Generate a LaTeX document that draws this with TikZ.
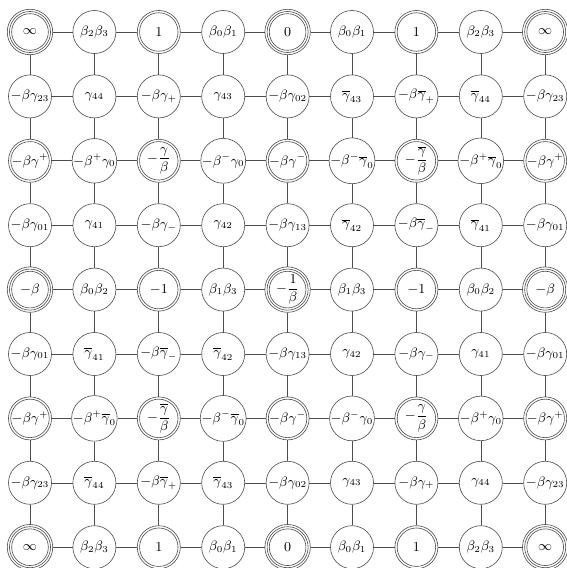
\documentclass[tikz,border=0pt]{standalone}
\usepackage{amsmath}
\tikzset{
  cellbase/.style={circle, draw=black!70, line width=0.4pt, inner sep=0pt, font=\small},
  cell1/.style={cellbase, minimum size=28.4pt},
  cell2/.style={cellbase, minimum size=28.4pt,
    path picture={\draw[ring] (path picture bounding box.center) circle[radius=12.7pt];}},
  cell3/.style={cellbase, minimum size=30pt,
    path picture={\draw[ring] (path picture bounding box.center) circle[radius=13.55pt];
                  \draw[ring] (path picture bounding box.center) circle[radius=12.1pt];}},
  ring/.style={draw=black!70, line width=0.4pt},
  link/.style={draw=black!70, line width=0.4pt},
}
\newcommand{\gb}{\overline{\gamma}}
\newcommand{\placecell}[3]{%
  \pgfmathtruncatemacro\celltype{(mod(#1,2)==1 && mod(#2,2)==1) ? ((mod(#1,4)==1 && mod(#2,4)==1) ? 3 : 2) : 1}%
  \node[cell\celltype] (n-#1-#2) at ({30+64.4*(#2-1)},{32+64.4*(#1-1)}) {#3};%
}
\begin{document}
\begin{tikzpicture}[x=0.66pt,y=-0.66pt]
\useasboundingbox (0,0) rectangle (566,568);
\foreach \c/\l in {1/{$\infty$},2/{$\beta_2\beta_3$},3/{$1$},4/{$\beta_0\beta_1$},5/{$0$},6/{$\beta_0\beta_1$},7/{$1$},8/{$\beta_2\beta_3$},9/{$\infty$}}{\placecell{1}{\c}{\l}}
\foreach \c/\l in {1/{$-\beta\gamma_{23}$},2/{$\gamma_{44}$},3/{$-\beta\gamma_+$},4/{$\gamma_{43}$},5/{$-\beta\gamma_{02}$},6/{$\gb_{43}$},7/{$-\beta\gb_+$},8/{$\gb_{44}$},9/{$-\beta\gamma_{23}$}}{\placecell{2}{\c}{\l}}
\foreach \c/\l in {1/{$-\beta\gamma^+$},2/{$-\beta^+\gamma_0$},3/{$-\dfrac{\gamma}{\beta}$},4/{$-\beta^-\gamma_0$},5/{$-\beta\gamma^-$},6/{$-\beta^-\gb_0$},7/{$-\dfrac{\gb}{\beta}$},8/{$-\beta^+\gb_0$},9/{$-\beta\gamma^+$}}{\placecell{3}{\c}{\l}}
\foreach \c/\l in {1/{$-\beta\gamma_{01}$},2/{$\gamma_{41}$},3/{$-\beta\gamma_-$},4/{$\gamma_{42}$},5/{$-\beta\gamma_{13}$},6/{$\gb_{42}$},7/{$-\beta\gb_-$},8/{$\gb_{41}$},9/{$-\beta\gamma_{01}$}}{\placecell{4}{\c}{\l}}
\foreach \c/\l in {1/{$-\beta$},2/{$\beta_0\beta_2$},3/{$-1$},4/{$\beta_1\beta_3$},5/{$-\dfrac{1}{\beta}$},6/{$\beta_1\beta_3$},7/{$-1$},8/{$\beta_0\beta_2$},9/{$-\beta$}}{\placecell{5}{\c}{\l}}
\foreach \c/\l in {1/{$-\beta\gamma_{01}$},2/{$\gb_{41}$},3/{$-\beta\gb_-$},4/{$\gb_{42}$},5/{$-\beta\gamma_{13}$},6/{$\gamma_{42}$},7/{$-\beta\gamma_-$},8/{$\gamma_{41}$},9/{$-\beta\gamma_{01}$}}{\placecell{6}{\c}{\l}}
\foreach \c/\l in {1/{$-\beta\gamma^+$},2/{$-\beta^+\gb_0$},3/{$-\dfrac{\gb}{\beta}$},4/{$-\beta^-\gb_0$},5/{$-\beta\gamma^-$},6/{$-\beta^-\gamma_0$},7/{$-\dfrac{\gamma}{\beta}$},8/{$-\beta^+\gamma_0$},9/{$-\beta\gamma^+$}}{\placecell{7}{\c}{\l}}
\foreach \c/\l in {1/{$-\beta\gamma_{23}$},2/{$\gb_{44}$},3/{$-\beta\gb_+$},4/{$\gb_{43}$},5/{$-\beta\gamma_{02}$},6/{$\gamma_{43}$},7/{$-\beta\gamma_+$},8/{$\gamma_{44}$},9/{$-\beta\gamma_{23}$}}{\placecell{8}{\c}{\l}}
\foreach \c/\l in {1/{$\infty$},2/{$\beta_2\beta_3$},3/{$1$},4/{$\beta_0\beta_1$},5/{$0$},6/{$\beta_0\beta_1$},7/{$1$},8/{$\beta_2\beta_3$},9/{$\infty$}}{\placecell{9}{\c}{\l}}
\foreach \r in {1,...,9}{
  \foreach \c in {1,...,8}{
    \pgfmathtruncatemacro\nx{\c+1}
    \draw[link] (n-\r-\c) -- (n-\r-\nx);
    \draw[link] (n-\c-\r) -- (n-\nx-\r);
  }
}
\end{tikzpicture}
\end{document}
